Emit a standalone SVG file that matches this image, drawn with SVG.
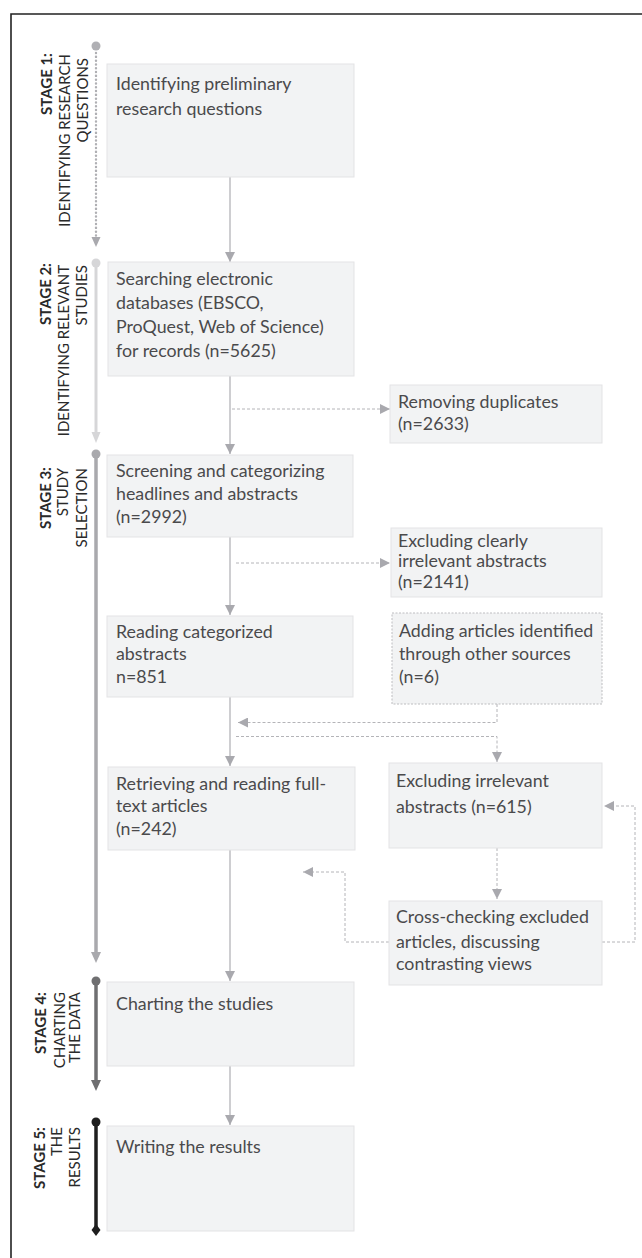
<svg xmlns="http://www.w3.org/2000/svg" width="642" height="1258" viewBox="0 0 642 1258">
<style>
.box{fill:#f2f3f4;stroke:#e3e3e5;stroke-width:1}
.dbox{fill:#f2f3f4;stroke:#bdbdc0;stroke-width:1;stroke-dasharray:2 1.5}
.t{font-family:Lato,"Liberation Sans",sans-serif;font-size:17.8px;fill:#4a4a4c}
.st{font-family:Lato,"Liberation Sans",sans-serif;font-size:15px;fill:#2a2a2a}
.stb{font-weight:bold}
.solid{fill:none;stroke:#b4b4b8;stroke-width:1.3}
.dash{fill:none;stroke:#b4b4b8;stroke-width:1;stroke-dasharray:3 2}
</style>
<defs>
<marker id="ah" viewBox="0 0 10 10" refX="10" refY="5" markerWidth="10" markerHeight="10" markerUnits="userSpaceOnUse" orient="auto">
<path d="M0,0 L10,5 L0,10 z" fill="#a9a9ae"/>
</marker>
</defs>
<rect x="0" y="0" width="642" height="1258" fill="#fff"/>
<path d="M11,1258 V14 H642" fill="none" stroke="#222" stroke-width="1.6"/>

<g id="stage-lines">
<circle cx="96" cy="46" r="4.5" fill="#b0b0b4"/>
<line x1="96" y1="53" x2="96" y2="236" stroke="#b0b0b4" stroke-width="2.4" stroke-linecap="round" stroke-dasharray="0.1 3.7"/>
<path d="M91.5,237 L100.5,237 L96,247 z" fill="#a9a9ae"/>
<circle cx="96" cy="263" r="4.5" fill="#d6d6d8"/>
<line x1="96" y1="263" x2="96" y2="433" stroke="#d6d6d8" stroke-width="3"/>
<path d="M91.5,432 L100.5,432 L96,443 z" fill="#d6d6d8"/>
<circle cx="96" cy="454" r="4.5" fill="#a9a9ad"/>
<line x1="96" y1="454" x2="96" y2="953" stroke="#a9a9ad" stroke-width="3.5"/>
<path d="M91,952 L101,952 L96,963 z" fill="#a9a9ad"/>
<circle cx="96" cy="981" r="4.5" fill="#6f6f71"/>
<line x1="96" y1="981" x2="96" y2="1081" stroke="#6f6f71" stroke-width="3.5"/>
<path d="M91,1080 L101,1080 L96,1091 z" fill="#6f6f71"/>
<circle cx="96" cy="1122" r="4.5" fill="#1e1e1e"/>
<line x1="96" y1="1122" x2="96" y2="1229" stroke="#1e1e1e" stroke-width="3.5"/>
<path d="M96,1224 L100.5,1230 L96,1236 L91.5,1230 z" fill="#1e1e1e"/>
</g>

<g id="stage1-label">
<text class="st stb" transform="translate(52,53) rotate(-90)" text-anchor="end">STAGE 1:</text>
<text class="st" transform="translate(70,54) rotate(-90)" text-anchor="end">IDENTIFYING RESEARCH</text>
<text class="st" transform="translate(88,58) rotate(-90)" text-anchor="end">QUESTIONS</text>
</g>
<g id="stage2-label">
<text class="st stb" transform="translate(51,263) rotate(-90)" text-anchor="end">STAGE 2:</text>
<text class="st" transform="translate(69,265) rotate(-90)" text-anchor="end">IDENTIFYING RELEVANT</text>
<text class="st" transform="translate(87,265) rotate(-90)" text-anchor="end">STUDIES</text>
</g>
<g id="stage3-label">
<text class="st stb" transform="translate(51,467) rotate(-90)" text-anchor="end">STAGE 3:</text>
<text class="st" transform="translate(68,468) rotate(-90)" text-anchor="end">STUDY</text>
<text class="st" transform="translate(87,468) rotate(-90)" text-anchor="end">SELECTION</text>
</g>
<g id="stage4-label">
<text class="st stb" transform="translate(46,992) rotate(-90)" text-anchor="end">STAGE 4:</text>
<text class="st" transform="translate(65,992) rotate(-90)" text-anchor="end">CHARTING</text>
<text class="st" transform="translate(80,992) rotate(-90)" text-anchor="end">THE DATA</text>
</g>
<g id="stage5-label">
<text class="st stb" transform="translate(45,1127) rotate(-90)" text-anchor="end">STAGE 5:</text>
<text class="st" transform="translate(62,1127) rotate(-90)" text-anchor="end">THE</text>
<text class="st" transform="translate(80,1127) rotate(-90)" text-anchor="end">RESULTS</text>
</g>

<g id="connectors">
<line class="solid" x1="230" y1="177" x2="230" y2="262" marker-end="url(#ah)"/>
<line class="solid" x1="230" y1="376" x2="230" y2="454" marker-end="url(#ah)"/>
<line class="dash" x1="232" y1="409" x2="390" y2="409" marker-end="url(#ah)"/>
<line class="solid" x1="230" y1="537" x2="230" y2="615" marker-end="url(#ah)"/>
<line class="dash" x1="236" y1="563" x2="390" y2="563" marker-end="url(#ah)"/>
<line class="solid" x1="230" y1="697" x2="230" y2="766" marker-end="url(#ah)"/>
<path class="dash" d="M497,704 V722.5 H238" marker-end="url(#ah)"/>
<path class="dash" d="M236,736.5 H497 V762" marker-end="url(#ah)"/>
<path class="dash" d="M497,848 V899" marker-end="url(#ah)"/>
<path class="dash" d="M389,942 H345 V872 H303" marker-end="url(#ah)"/>
<path class="dash" d="M602,942 H635 V806 H604" marker-end="url(#ah)"/>
<line class="solid" x1="230" y1="850" x2="230" y2="981" marker-end="url(#ah)"/>
<line class="solid" x1="230" y1="1066" x2="230" y2="1125" marker-end="url(#ah)"/>
</g>

<g id="n1">
<rect class="box" x="107" y="64" width="247" height="113"/>
<text class="t" x="116" y="90">Identifying preliminary</text>
<text class="t" x="116" y="115">research questions</text>
</g>
<g id="n2">
<rect class="box" x="108" y="262" width="246" height="114"/>
<text class="t" x="116" y="285">Searching electronic</text>
<text class="t" x="116" y="309">databases (EBSCO,</text>
<text class="t" x="116" y="333">ProQuest, Web of Science)</text>
<text class="t" x="116" y="357">for records (n=5625)</text>
</g>
<g id="n3">
<rect class="box" x="390" y="385" width="212" height="58"/>
<text class="t" x="398" y="408">Removing duplicates</text>
<text class="t" x="398" y="430">(n=2633)</text>
</g>
<g id="n4">
<rect class="box" x="107" y="455" width="246" height="82"/>
<text class="t" x="116" y="477">Screening and categorizing</text>
<text class="t" x="116" y="500">headlines and abstracts</text>
<text class="t" x="116" y="523">(n=2992)</text>
</g>
<g id="n5">
<rect class="box" x="391" y="528" width="211" height="69"/>
<text class="t" x="398" y="547">Excluding clearly</text>
<text class="t" x="398" y="567">irrelevant abstracts</text>
<text class="t" x="398" y="588">(n=2141)</text>
</g>
<g id="n6">
<rect class="box" x="107" y="616" width="246" height="81"/>
<text class="t" x="116" y="638">Reading categorized</text>
<text class="t" x="116" y="660">abstracts</text>
<text class="t" x="116" y="683">n=851</text>
</g>
<g id="n7">
<rect class="dbox" x="392" y="613" width="210" height="91"/>
<text class="t" x="399" y="637">Adding articles identified</text>
<text class="t" x="399" y="660">through other sources</text>
<text class="t" x="399" y="683">(n=6)</text>
</g>
<g id="n8">
<rect class="box" x="108" y="767" width="247" height="83"/>
<text class="t" x="116" y="790">Retrieving and reading full-</text>
<text class="t" x="116" y="812">text articles</text>
<text class="t" x="116" y="835">(n=242)</text>
</g>
<g id="n9">
<rect class="box" x="389" y="763" width="213" height="85"/>
<text class="t" x="396" y="787">Excluding irrelevant</text>
<text class="t" x="396" y="813">abstracts (n=615)</text>
</g>
<g id="n10">
<rect class="box" x="389" y="901" width="213" height="84"/>
<text class="t" x="396" y="923">Cross-checking excluded</text>
<text class="t" x="396" y="948">articles, discussing</text>
<text class="t" x="396" y="970">contrasting views</text>
</g>
<g id="n11">
<rect class="box" x="107" y="982" width="247" height="84"/>
<text class="t" x="116" y="1010">Charting the studies</text>
</g>
<g id="n12">
<rect class="box" x="107" y="1126" width="247" height="105"/>
<text class="t" x="116" y="1153">Writing the results</text>
</g>
</svg>
